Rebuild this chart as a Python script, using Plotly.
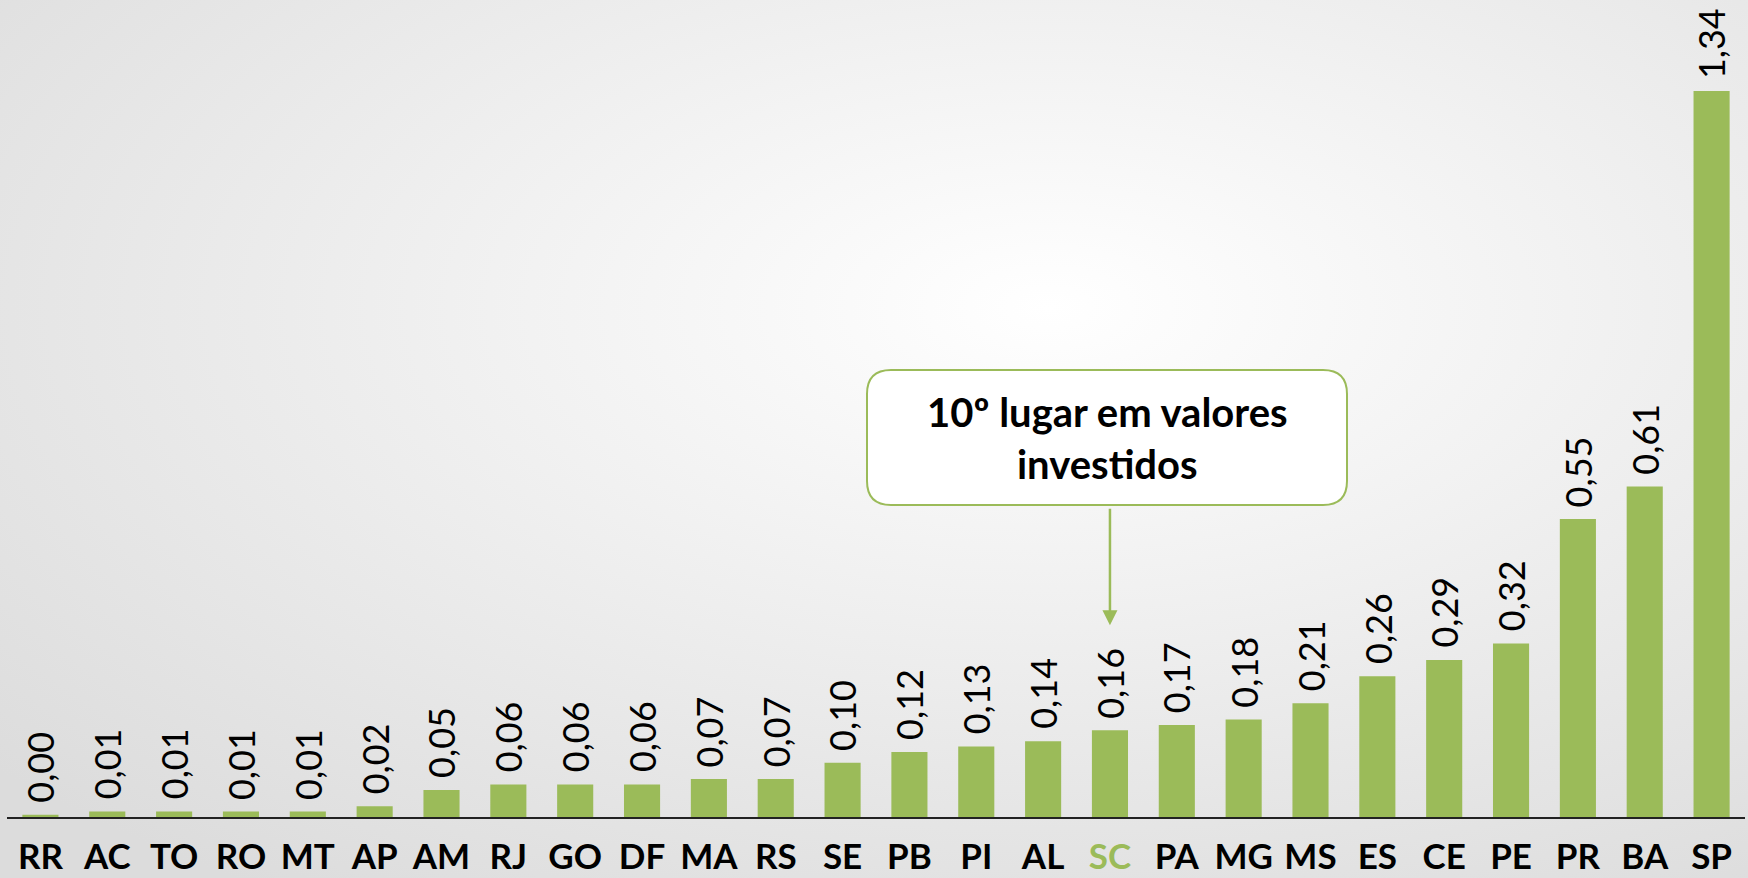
import base64
import plotly.graph_objects as go

states = ["RR", "AC", "TO", "RO", "MT", "AP", "AM", "RJ", "GO", "DF", "MA", "RS", "SE",
          "PB", "PI", "AL", "SC", "PA", "MG", "MS", "ES", "CE", "PE", "PR", "BA", "SP"]
values = [0.004, 0.01, 0.01, 0.01, 0.01, 0.02, 0.05, 0.06, 0.06, 0.06, 0.07, 0.07, 0.10,
          0.12, 0.13, 0.14, 0.16, 0.17, 0.18, 0.21, 0.26, 0.29, 0.32, 0.55, 0.61, 1.34]
labels = ["0,00", "0,01", "0,01", "0,01", "0,01", "0,02", "0,05", "0,06", "0,06", "0,06",
          "0,07", "0,07", "0,10", "0,12", "0,13", "0,14", "0,16", "0,17", "0,18", "0,21",
          "0,26", "0,29", "0,32", "0,55", "0,61", "1,34"]
highlight = "SC"
callout_text = "<b>10º lugar em valores<br>investidos</b>"

GREEN = "#9BBB59"
W, H = 1748, 878
ML, MR, MT, MB = 7, 3, 0, 61
PW, PH = W - ML - MR, H - MT - MB

ticktext = [f"<span style='color:{GREEN}'>{s}</span>" if s == highlight else s for s in states]

fig = go.Figure(go.Bar(
    x=states, y=values,
    marker=dict(color=GREEN, line=dict(width=0)),
    cliponaxis=False, hoverinfo="x+y",
))

svg = (f'<svg xmlns="http://www.w3.org/2000/svg" width="{W}" height="{H}">'
       '<defs><radialGradient id="g" cx="0.6" cy="0.35" r="0.8">'
       '<stop offset="0" stop-color="#ffffff"/><stop offset="1" stop-color="#dcdcdc"/>'
       '</radialGradient></defs><rect width="100%" height="100%" fill="url(#g)"/></svg>')
src = "data:image/svg+xml;base64," + base64.b64encode(svg.encode()).decode()

# callout box (pixel geometry converted to paper coords)
bx0, bx1, by0, by1, r = 867, 1347, 370, 505, 24
def px(x): return (x - ML) / PW
def py(y): return (H - MB - y) / PH
rx, ry = r / PW, r / PH
x0, x1, yt, yb = px(bx0), px(bx1), py(by0), py(by1)
path = (f"M {x0+rx},{yt} L {x1-rx},{yt} Q {x1},{yt} {x1},{yt-ry} L {x1},{yb+ry} "
        f"Q {x1},{yb} {x1-rx},{yb} L {x0+rx},{yb} Q {x0},{yb} {x0},{yb+ry} "
        f"L {x0},{yt-ry} Q {x0},{yt} {x0+rx},{yt} Z")

sc_val = values[states.index(highlight)]

value_annots = [
    dict(x=s, y=v, xref="x", yref="y", text=t, textangle=-90, showarrow=False,
         xanchor="center", yanchor="bottom", yshift=10,
         font=dict(family="Lato", size=36, color="#000000"))
    for s, v, t in zip(states, values, labels)
]

fig.update_layout(
    width=W, height=H,
    margin=dict(l=ML, r=MR, t=MT, b=MB),
    paper_bgcolor="#e6e6e6", plot_bgcolor="rgba(0,0,0,0)",
    bargap=0.46, showlegend=False,
    images=[dict(source=src, xref="paper", yref="paper",
                 x=-ML / PW, y=1 + MT / PH, sizex=W / PW, sizey=H / PH,
                 xanchor="left", yanchor="top", sizing="stretch", layer="below")],
    xaxis=dict(tickmode="array", tickvals=states, ticktext=ticktext,
               showline=True, linecolor="#222222", linewidth=2,
               ticks="outside", ticklen=8, tickcolor="rgba(0,0,0,0)",
               tickfont=dict(family="Lato", size=35, color="#000000", weight="bold"),
               showgrid=False, zeroline=False, fixedrange=True),
    yaxis=dict(visible=False, range=[0, PH / 541.8], showgrid=False, zeroline=False),
    shapes=[dict(type="path", path=path, xref="paper", yref="paper",
                 line=dict(color=GREEN, width=2), fillcolor="#ffffff", layer="below")],
    annotations=value_annots + [
        dict(text=callout_text, xref="paper", yref="paper",
             x=(x0 + x1) / 2, y=(yt + yb) / 2, showarrow=False,
             font=dict(family="Lato", size=40, color="#000000"), align="center"),
        dict(x=highlight, y=sc_val, xref="x", yref="y", yshift=105, text="",
             showarrow=True, arrowhead=2, arrowsize=1.2, arrowwidth=2.5,
             arrowcolor=GREEN, ax=0, ay=-118, standoff=0, startstandoff=0),
    ],
)

fig.write_html("out.html", config={"displayModeBar": False},
               post_script="document.body.style.margin='0';")
